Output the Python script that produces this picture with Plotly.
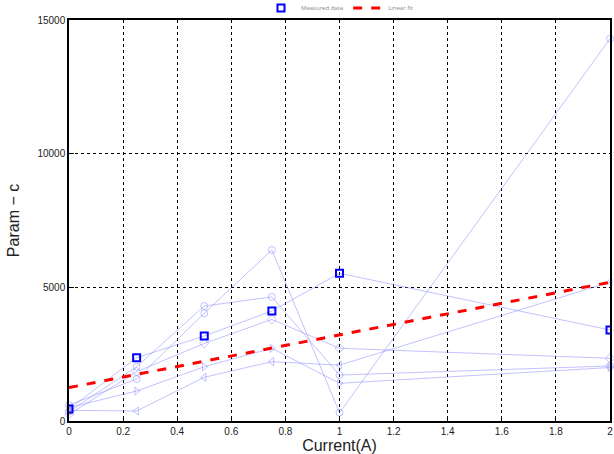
import plotly.graph_objects as go

current = [0, 0.25, 0.5, 0.75, 1, 2]
series_a = [600, 1571, 4030, 6400, 310, 14300]
series_b = [350, 2030, 4300, 4640, 1720, 2058]
series_c = [250, 1845, 2900, 3800, 2720, 2345]
series_d = [500, 1122, 2030, 2720, 1410, 2000]
series_e = [400, 374, 1635, 2220, 2090, 5190]
series_sq = [449, 2368, 3180, 4115, 5525, 3404]
fit_x = [0, 2]
fit_y = [1250, 5190]
x_ticks = [0, 0.2, 0.4, 0.6, 0.8, 1, 1.2, 1.4, 1.6, 1.8, 2]
x_labels = ["0", "0.2", "0.4", "0.6", "0.8", "1", "1.2", "1.4", "1.6", "1.8", "2"]
y_ticks = [0, 5000, 10000, 15000]
y_labels = ["0", "5000", "10000", "15000"]

light = "rgba(120,120,255,0.45)"
fig = go.Figure()
light_series = [(series_a, "circle-open"), (series_b, "circle-open"), (series_c, "diamond-open"),
                (series_d, "triangle-right-open"), (series_e, "triangle-left-open")]
for vals, sym in light_series:
    fig.add_trace(go.Scatter(x=current, y=vals, mode="lines+markers",
                             line=dict(color=light, width=1),
                             marker=dict(symbol=sym, size=7, color=light, line=dict(color=light, width=1)),
                             showlegend=False, cliponaxis=False))
fig.add_trace(go.Scatter(x=current, y=series_sq, mode="lines", line=dict(color=light, width=1), showlegend=False))
fig.add_trace(go.Scatter(x=current, y=series_sq, mode="markers", name="Measured data",
                         marker=dict(symbol="square-open", size=7, color="blue", line=dict(color="blue", width=2))))
fig.add_trace(go.Scatter(x=fit_x, y=fit_y, mode="lines", name="Linear fit",
                         line=dict(color="red", width=3, dash="dash")))

axis_common = dict(showline=True, linecolor="black", linewidth=1.5, mirror=True,
                   showgrid=True, gridcolor="black", griddash="dot", gridwidth=1,
                   ticks="inside", ticklen=5, tickcolor="black", zeroline=False,
                   tickfont=dict(family="Liberation Sans, Arial", size=10, color="#222"))
fig.update_xaxes(range=[0, 2], tickvals=x_ticks, ticktext=x_labels,
                 title=dict(text="Current(A)", font=dict(family="Liberation Sans, Arial", size=16, color="#222"), standoff=2),
                 **axis_common)
fig.update_yaxes(range=[0, 15000], tickvals=y_ticks, ticktext=y_labels,
                 title=dict(text="Param − c", font=dict(family="Liberation Sans, Arial", size=16, color="#222"), standoff=14),
                 **axis_common)
fig.update_layout(width=614, height=454, margin=dict(l=69, r=4, t=20, b=33, autoexpand=False),
                  paper_bgcolor="white", plot_bgcolor="white",
                  legend=dict(orientation="h", x=0.5, xanchor="center", y=1.03, yanchor="middle",
                              font=dict(size=6, color="#888"), bgcolor="rgba(0,0,0,0)"))
fig.write_html("out.html")
